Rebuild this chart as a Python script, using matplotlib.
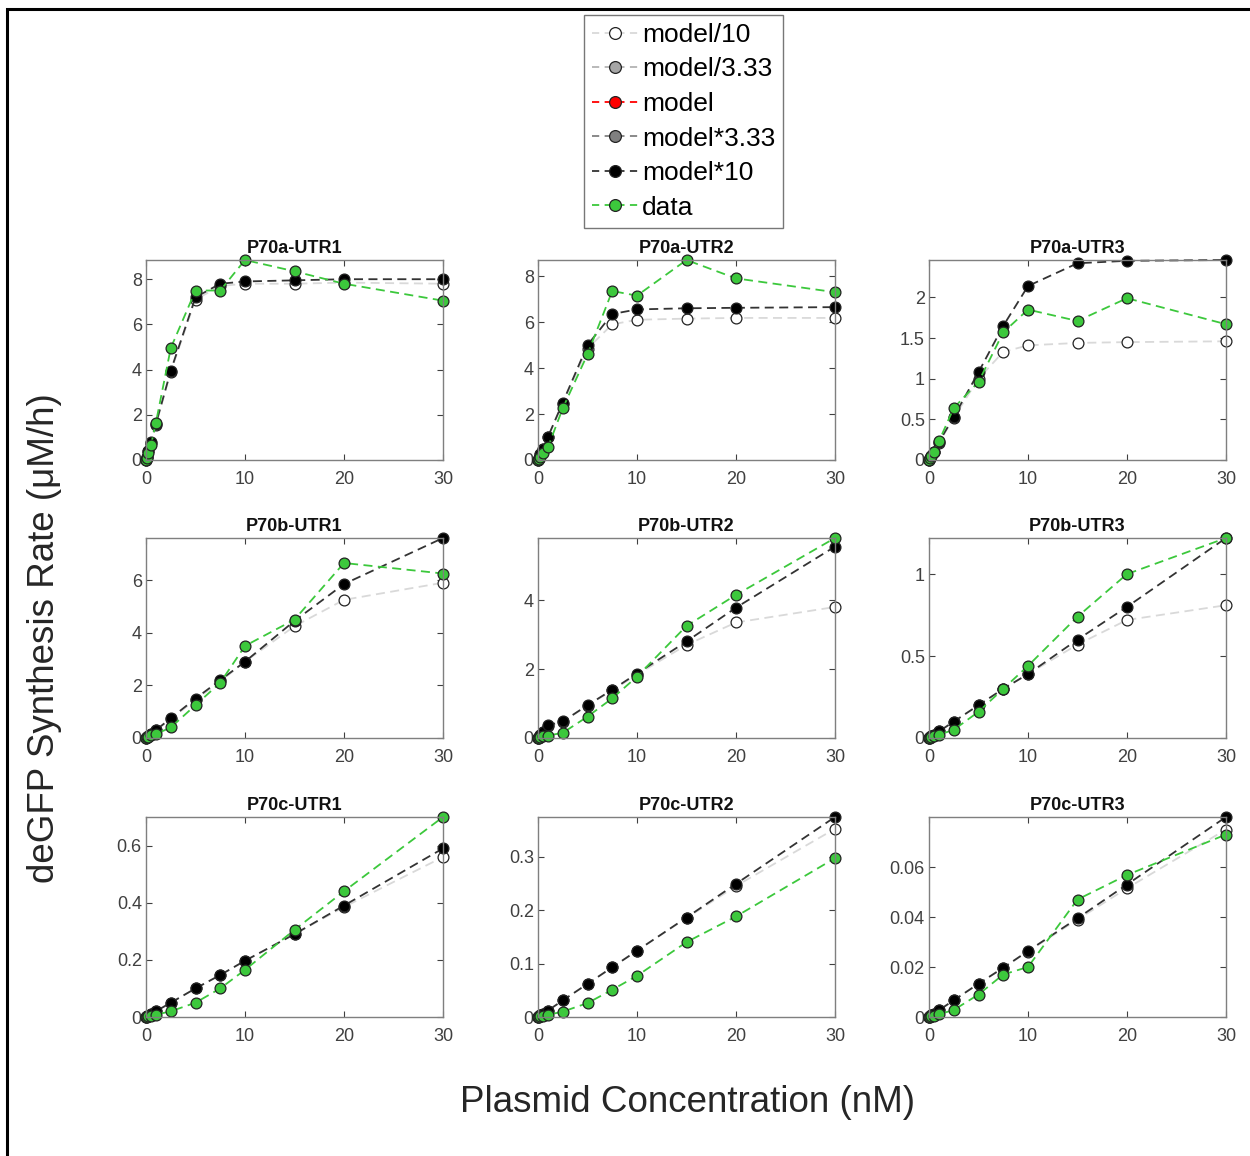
import matplotlib
matplotlib.use("Agg")
import matplotlib.pyplot as plt
from matplotlib.lines import Line2D
from matplotlib.patches import Rectangle

plt.rcParams['font.family'] = ['Liberation Sans', 'DejaVu Sans']

x = [0, 0.1, 0.25, 0.5, 1, 2.5, 5, 7.5, 10, 15, 20, 30]

titles = ["P70a-UTR1", "P70a-UTR2", "P70a-UTR3",
          "P70b-UTR1", "P70b-UTR2", "P70b-UTR3",
          "P70c-UTR1", "P70c-UTR2", "P70c-UTR3"]

model_div10 = [
    [0, 0.15, 0.4, 0.75, 1.55, 3.9, 7.1, 7.7, 7.8, 7.8, 7.85, 7.8],
    [0, 0.1, 0.25, 0.5, 1.0, 2.45, 4.85, 5.9, 6.1, 6.15, 6.18, 6.18],
    [0, 0.02, 0.05, 0.1, 0.21, 0.52, 1.0, 1.33, 1.41, 1.44, 1.45, 1.46],
    [0, 0.03, 0.07, 0.14, 0.29, 0.72, 1.45, 2.15, 2.9, 4.25, 5.25, 5.9],
    [0, 0.04, 0.09, 0.18, 0.36, 0.47, 0.94, 1.38, 1.84, 2.7, 3.35, 3.8],
    [0, 0.005, 0.01, 0.02, 0.04, 0.1, 0.2, 0.3, 0.39, 0.57, 0.72, 0.81],
    [0, 0.002, 0.005, 0.01, 0.02, 0.05, 0.1, 0.147, 0.196, 0.29, 0.385, 0.56],
    [0, 0.001, 0.003, 0.006, 0.012, 0.031, 0.062, 0.093, 0.124, 0.185, 0.245, 0.352],
    [0, 0.0003, 0.0007, 0.0013, 0.0027, 0.0067, 0.0133, 0.0197, 0.0262, 0.039, 0.0515, 0.075],
]

model_x10 = [
    [0, 0.15, 0.4, 0.8, 1.6, 3.95, 7.2, 7.8, 7.9, 7.95, 8.0, 8.0],
    [0, 0.1, 0.25, 0.5, 1.0, 2.5, 5.0, 6.35, 6.55, 6.6, 6.62, 6.65],
    [0, 0.02, 0.05, 0.1, 0.22, 0.53, 1.08, 1.65, 2.14, 2.42, 2.45, 2.46],
    [0, 0.03, 0.08, 0.15, 0.3, 0.75, 1.5, 2.2, 2.9, 4.45, 5.85, 7.6],
    [0, 0.04, 0.09, 0.18, 0.37, 0.48, 0.95, 1.4, 1.87, 2.8, 3.78, 5.55],
    [0, 0.005, 0.01, 0.02, 0.04, 0.1, 0.2, 0.3, 0.39, 0.6, 0.8, 1.22],
    [0, 0.002, 0.005, 0.01, 0.02, 0.05, 0.1, 0.147, 0.197, 0.29, 0.39, 0.59],
    [0, 0.001, 0.003, 0.006, 0.012, 0.031, 0.062, 0.093, 0.124, 0.186, 0.249, 0.374],
    [0, 0.0003, 0.0007, 0.0013, 0.0027, 0.0067, 0.0133, 0.0197, 0.0264, 0.0395, 0.053, 0.08],
]

data = [
    [0, 0.1, 0.3, 0.65, 1.65, 4.95, 7.5, 7.5, 8.85, 8.35, 7.8, 7.05],
    [0, 0.05, 0.15, 0.3, 0.55, 2.25, 4.6, 7.35, 7.15, 8.7, 7.9, 7.3],
    [0, 0.02, 0.05, 0.1, 0.23, 0.64, 0.96, 1.57, 1.85, 1.71, 1.99, 1.67],
    [0, 0.02, 0.05, 0.1, 0.15, 0.4, 1.25, 2.1, 3.5, 4.5, 6.65, 6.25],
    [0, 0.01, 0.02, 0.05, 0.07, 0.15, 0.62, 1.15, 1.78, 3.25, 4.15, 5.8],
    [0, 0.003, 0.007, 0.013, 0.02, 0.05, 0.16, 0.3, 0.44, 0.74, 1.0, 1.22],
    [0, 0.001, 0.002, 0.004, 0.008, 0.02, 0.05, 0.1, 0.165, 0.305, 0.44, 0.7],
    [0, 0.0005, 0.001, 0.002, 0.004, 0.01, 0.026, 0.051, 0.077, 0.14, 0.188, 0.297],
    [0, 0.0001, 0.0003, 0.0006, 0.0011, 0.0028, 0.009, 0.017, 0.02, 0.047, 0.0568, 0.073],
]

yticks = [
    [0, 2, 4, 6, 8], [0, 2, 4, 6, 8], [0, 0.5, 1, 1.5, 2],
    [0, 2, 4, 6], [0, 2, 4], [0, 0.5, 1],
    [0, 0.2, 0.4, 0.6], [0, 0.1, 0.2, 0.3], [0, 0.02, 0.04, 0.06],
]
xticks = [0, 10, 20, 30]

legend_labels = ["model/10", "model/3.33", "model", "model*3.33", "model*10", "data"]
legend_face = ["white", "#a6a6a6", "red", "#808080", "black", "#3cc83c"]
legend_line = ["#d9d9d9", "#b3b3b3", "red", "#808080", "#333333", "#3cc83c"]

W, H = 1250, 1156
fig = plt.figure(figsize=(W / 100, H / 100), dpi=100)

lefts = [146, 538, 929]
bottoms = [460, 738, 1017]
aw, ah = 297, 200

ms = 7.8
grey = "#404040"
for i in range(9):
    r, c = divmod(i, 3)
    ax = fig.add_axes([lefts[c] / W, 1 - bottoms[r] / H, aw / W, ah / H])
    ax.plot(x, model_div10[i], ls=(0, (5, 3)), color="#d9d9d9", lw=1.3,
            marker="o", ms=ms, mfc="white", mec="#222222", mew=0.9, clip_on=False)
    ax.plot(x, model_x10[i], ls=(0, (5, 3)), color="#333333", lw=1.3,
            marker="o", ms=ms, mfc="black", mec="#222222", mew=0.9, clip_on=False)
    ax.plot(x, data[i], ls=(0, (5, 3)), color="#3cc83c", lw=1.3,
            marker="o", ms=ms, mfc="#3cc83c", mec="#222222", mew=0.9, clip_on=False)
    top = max(max(model_div10[i]), max(model_x10[i]), max(data[i]))
    ax.set_xlim(0, 30)
    ax.set_ylim(0, top)
    ax.set_xticks(xticks)
    ax.set_yticks(yticks[i])
    ax.set_yticklabels([f"{v:g}" for v in yticks[i]])
    ax.tick_params(direction="in", top=True, right=True, labelsize=13,
                   colors=grey, length=4, width=0.8)
    ax.tick_params(axis="x", pad=8)
    ax.tick_params(axis="y", pad=3)
    for s in ax.spines.values():
        s.set_color("#7f7f7f")
        s.set_linewidth(1.0)
    ax.set_title(titles[i], fontsize=13, fontweight="bold", color="#111111", pad=5)

fig.text(45 / W, 1 - 638 / H, "deGFP Synthesis Rate (\u03bcM/h)", rotation=90,
         ha="center", va="center", fontsize=26.5, color="#262626")
fig.text(687 / W, 1 - 1102 / H, "Plasmid Concentration (nM)",
         ha="center", va="center", fontsize=26.5, color="#262626")

handles = [Line2D([], [], ls=(0, (4, 3)), color=lc, lw=1.3, marker="o", ms=8.5,
                  mfc=fc, mec="#222222", mew=0.9)
           for fc, lc in zip(legend_face, legend_line)]
leg = fig.legend(handles, legend_labels, loc="upper left",
                 bbox_to_anchor=(584 / W, 1 - 15 / H), fontsize=19,
                 frameon=True, fancybox=False, handlelength=1.75,
                 handletextpad=0.15, labelspacing=0.4, borderpad=0.3,
                 borderaxespad=0, edgecolor="#555555")
leg.get_frame().set_linewidth(1.0)

fig.patches.append(Rectangle((7 / W, -0.1), 1.2, 1 - 9 / H + 0.1,
                             transform=fig.transFigure, fill=False,
                             edgecolor="black", linewidth=2.2))

fig.savefig("out.png", dpi=100)
